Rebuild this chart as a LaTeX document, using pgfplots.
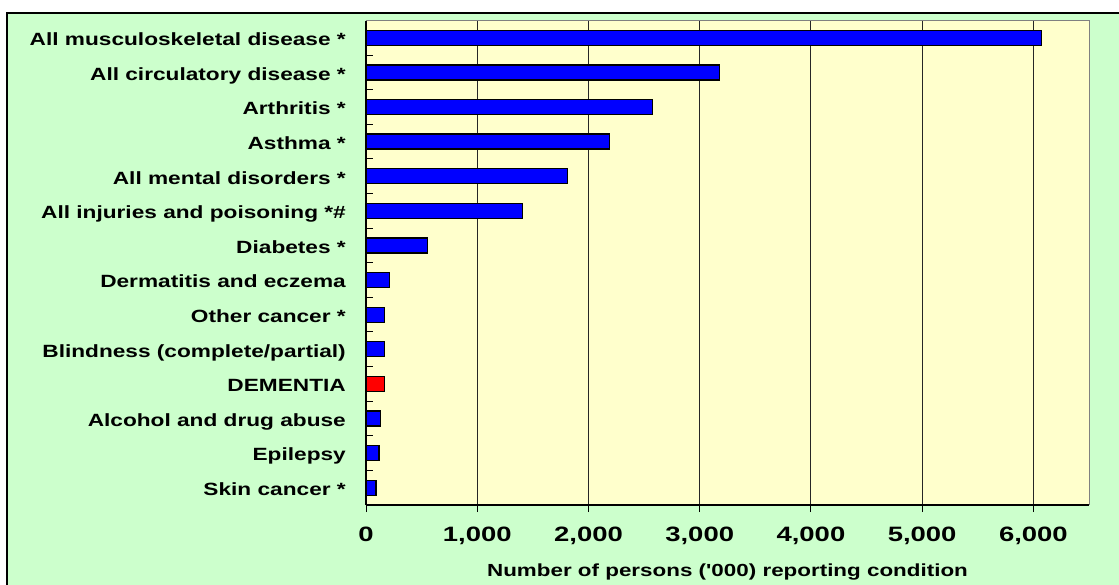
\documentclass[border=0pt]{standalone}
\usepackage{pgfplots}
\pgfplotsset{compat=1.18}
\usepackage{fontspec}
\setmainfont{Liberation Sans}
\newfontfamily\chartfont{Liberation Sans}[FakeStretch=1.28]
\newfontfamily\tickfont{Liberation Sans}[FakeStretch=1.32]
\definecolor{bggreen}{HTML}{CCFFCC}
\definecolor{plotbg}{HTML}{FFFFCC}
\definecolor{barblue}{HTML}{0000FF}
\definecolor{barred}{HTML}{FF0000}
\begin{document}
\begin{tikzpicture}
\path[use as bounding box] (0,0) rectangle (1119bp,-585bp);
\fill[white] (0,0) rectangle (1119bp,-585bp);
\fill[bggreen] (7bp,-13bp) rectangle (1119bp,-585bp);
\draw[black, line width=1.5bp] (7bp,-590bp) -- (7bp,-13bp) -- (1125bp,-13bp);
\begin{axis}[
  at={(366bp,-505bp)}, anchor=south west,
  scale only axis, width=723bp, height=484.5bp,
  axis x line*=bottom, axis y line*=left,
  axis line style={black, line width=1.2bp},
  xbar, bar width=15bp, clip=false,
  xmin=0, xmax=6500, ymin=0.5, ymax=14.5,
  axis background/.style={fill=plotbg},
  xtick={0,1000,...,6000},
  xticklabels={0,{1,000},{2,000},{3,000},{4,000},{5,000},{6,000}},
  xtick align=outside, ytick align=inside,
  major tick length=7bp,
  tick style={black, line width=1bp},
  xmajorgrids, grid style={black!85, line width=0.9bp},
  ytick={0.5,1.5,...,14.5}, yticklabels={},
  extra y ticks={1,2,...,14},
  extra y tick labels={Skin cancer *,Epilepsy,Alcohol and drug abuse,DEMENTIA,Blindness (complete/partial),Other cancer *,Dermatitis and eczema,Diabetes *,All injuries and poisoning *\#,All mental disorders *,Asthma *,Arthritis *,All circulatory disease *,All musculoskeletal disease *},
  extra y tick style={major tick length=0pt},
  yticklabel style={font=\chartfont\bfseries\fontsize{17.7bp}{20bp}\selectfont, anchor=base east, inner sep=0pt, xshift=-20bp, yshift=-7.8bp},
  xticklabel style={font=\tickfont\bfseries\fontsize{20.8bp}{22bp}\selectfont, anchor=base, inner sep=0pt, yshift=-29.6bp},
  xlabel={Number of persons ('000) reporting condition},
  xlabel style={font=\chartfont\bfseries\fontsize{17.5bp}{20bp}\selectfont, at={(axis description cs:0.5,0)}, anchor=base, inner sep=0pt, yshift=-71.5bp},
]
\addplot[fill=barblue, draw=black, line width=1.3bp, bar shift=0pt] coordinates {
(90,1) (117,2) (129,3) (167,5) (167,6) (210,7) (553,8) (1410,9) (1810,10) (2190,11) (2575,12) (3180,13) (6070,14)
};
\addplot[fill=barred, draw=black, line width=1.3bp, bar shift=0pt] coordinates {
(167,4)
};
\draw[gray, line width=1bp] (rel axis cs:0,1) -- (rel axis cs:1,1) -- (rel axis cs:1,0);
\end{axis}
\end{tikzpicture}
\end{document}
